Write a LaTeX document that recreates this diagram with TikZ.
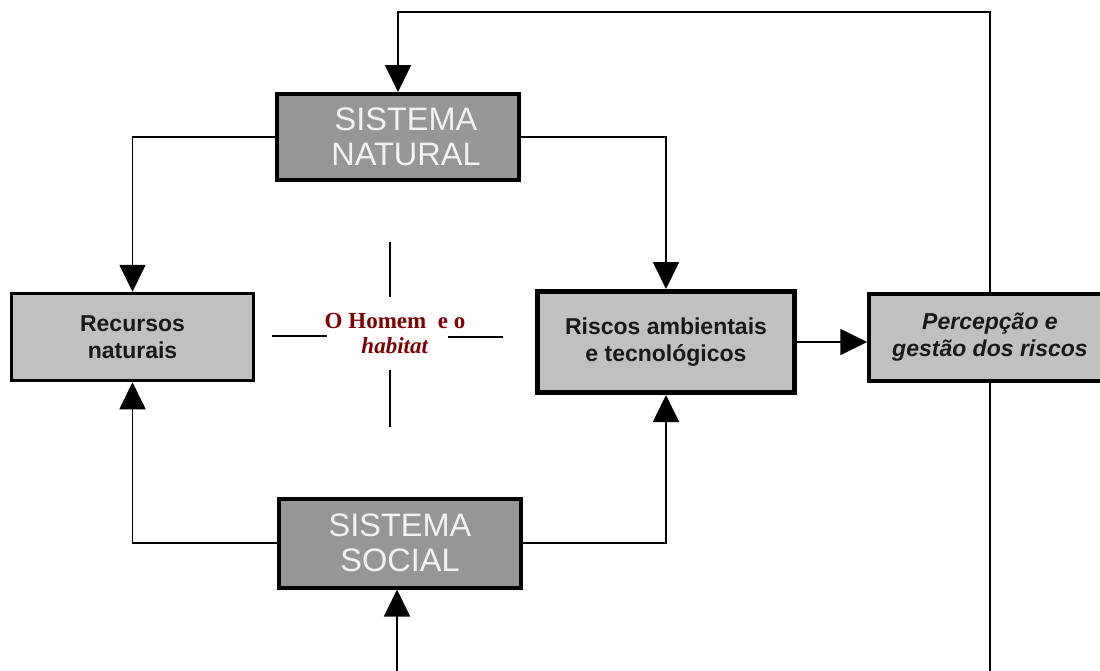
\documentclass[tikz,border=0pt]{standalone}
\usepackage{fontspec}
\setmainfont{Liberation Sans}
\newfontfamily\timesfont{Liberation Serif}
\usetikzlibrary{arrows.meta}
\definecolor{darkbox}{RGB}{150,150,150}
\definecolor{lightbox}{RGB}{192,192,192}
\definecolor{homemred}{RGB}{128,0,0}
\definecolor{boxtext}{RGB}{242,242,242}
\definecolor{inktext}{RGB}{25,25,25}

\begin{document}
\begin{tikzpicture}[x=1pt,y=-1pt,
  sysbox/.style={draw=black, fill=darkbox, line width=4pt,
    minimum width=242pt, minimum height=86pt, align=center, inner sep=0pt,
    text=boxtext, font=\fontsize{32.5}{35}\selectfont},
  topicbox/.style={draw=black, fill=lightbox, line width=3.5pt,
    minimum width=242pt, minimum height=87pt, align=center, inner sep=0pt,
    text=inktext, font=\fontsize{23}{27}\selectfont\bfseries},
  link/.style={line width=1.8pt},
  tip/.style={-{Triangle[width=26pt,length=27pt]}},
  crossline/.style={line width=1.8pt}
]
\useasboundingbox (0,0) rectangle (1100,670);
\clip (0,0) rectangle (1100,670);

% boxes
\node[sysbox] (sn) at (398,137)
  {\hspace*{16pt}SISTEMA\\\hspace*{16pt}NATURAL};
\node[sysbox, minimum height=89pt] (ss) at (400,543) {SISTEMA\\SOCIAL};
\node[topicbox] (rec) at (132.5,337) {Recursos\\naturais};
\node[topicbox, line width=5pt, minimum width=257pt, minimum height=101pt]
  (ris) at (666,342) {Riscos ambientais\\e tecnológicos};
\node[topicbox, font=\fontsize{23}{27}\selectfont\bfseries\itshape]
  (per) at (990,337.5) {Percepção e\\gestão dos riscos};

% central label with its cross
\node[font=\timesfont\bfseries\fontsize{23}{25}\selectfont, text=homemred,
  align=center, inner sep=0pt] (hab) at (395,334) {O Homem\ \ e o\\\textit{habitat}};
\coordinate (vt1) at (390,242); \coordinate (vt2) at (390,297);
\coordinate (vb1) at (390,370); \coordinate (vb2) at (390,427);
\coordinate (hl1) at (272,336); \coordinate (hl2) at (327,336);
\coordinate (hr1) at (448,337); \coordinate (hr2) at (503,337);
\draw[crossline] (vt1) -- (vt2);
\draw[crossline] (vb1) -- (vb2);
\draw[crossline] (hl1) -- (hl2);
\draw[crossline] (hr1) -- (hr2);

% connectors
\draw[link,tip] (sn.west) -| (rec.north);
\draw[link,tip] (sn.east) -| (ris.north);
\draw[link,tip] (ss.west) -| (rec.south);
\draw[link,tip] (ss.east) -| (ris.south);
\draw[link,tip] (ris.east) -- (ris.east -| per.west);

% feedback loop
\coordinate (looptop) at (990,12);
\coordinate (loopdown) at (990,672);
\coordinate (loopup) at (397,672);
\draw[link,tip] (per.north) -- (looptop) -| (sn.north);
\draw[link] (per.south) -- (loopdown);
\draw[link,tip] (loopup) -- (loopup |- ss.south);
\end{tikzpicture}
\end{document}
